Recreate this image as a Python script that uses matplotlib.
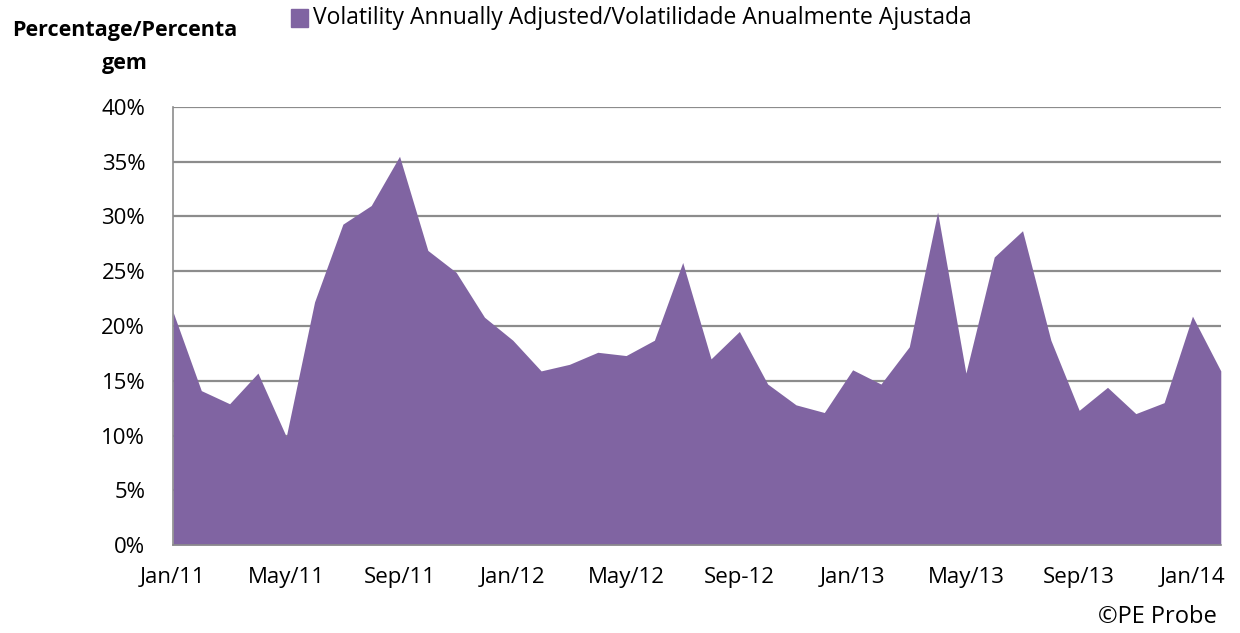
import matplotlib
matplotlib.use("Agg")
import matplotlib.pyplot as plt
import numpy as np
from matplotlib.ticker import FuncFormatter

# monthly volatility, Jan/11 .. Feb/14
months = ["Jan/11", "Feb/11", "Mar/11", "Apr/11", "May/11", "Jun/11", "Jul/11", "Aug/11",
          "Sep/11", "Oct/11", "Nov/11", "Dec/11", "Jan/12", "Feb/12", "Mar/12", "Apr/12",
          "May/12", "Jun/12", "Jul/12", "Aug/12", "Sep-12", "Oct/12", "Nov/12", "Dec/12",
          "Jan/13", "Feb/13", "Mar/13", "Apr/13", "May/13", "Jun/13", "Jul/13", "Aug/13",
          "Sep/13", "Oct/13", "Nov/13", "Dec/13", "Jan/14", "Feb/14"]
volatility = [21.3, 14.1, 12.9, 15.7, 9.9, 22.2, 29.3, 31.0, 35.5, 26.9, 24.9, 20.8,
              18.7, 15.9, 16.5, 17.6, 17.3, 18.7, 25.8, 17.0, 19.5, 14.7, 12.8, 12.1,
              16.0, 14.7, 18.1, 30.4, 15.7, 26.3, 28.7, 18.7, 12.3, 14.4, 12.0, 13.0,
              20.9, 15.9]
tick_every = 4
yticks = [0, 5, 10, 15, 20, 25, 30, 35, 40]

series_name = "Volatility Annually Adjusted/Volatilidade Anualmente Ajustada"
purple = "#8064A2"
grey = "#8C8C8C"

plt.rcParams['font.family'] = ['Open Sans', 'DejaVu Sans']

fig = plt.figure(figsize=(12.4, 6.33), dpi=100)
ax = fig.add_axes([0.1395, 0.139, 0.845, 0.692])

x = np.arange(len(volatility))
ax.fill_between(x, 0, volatility, color=purple, linewidth=0, zorder=3)

ax.set_xlim(0, len(volatility) - 1)
ax.set_ylim(0, 40)
ax.set_yticks(yticks)
ax.yaxis.set_major_formatter(FuncFormatter(lambda v, p: f"{v:.0f}%"))
ax.set_xticks(x[::tick_every])
ax.set_xticklabels(months[::tick_every])

ax.grid(axis="y", color=grey, linewidth=1.6, zorder=1)
ax.set_axisbelow(True)
for s in ["top", "right"]:
    ax.spines[s].set_visible(False)
for s in ["left", "bottom"]:
    ax.spines[s].set_color(grey)
    ax.spines[s].set_linewidth(1.2)
    ax.spines[s].set_zorder(4)
ax.tick_params(length=0, labelsize=16)
ax.tick_params(axis="x", pad=16)
ax.tick_params(axis="y", pad=20)

fig.text(0.101, 0.925, "Percentage/Percenta\ngem", ha="center", va="center",
         fontsize=15.5, fontweight="bold", linespacing=1.75)

# legend
fig.patches.append(plt.Rectangle((0.2345, 0.958), 0.0135, 0.027, transform=fig.transFigure,
                                 color=purple, figure=fig))
fig.text(0.2525, 0.971, series_name, ha="left", va="center", fontsize=16.5)

fig.text(0.981, 0.025, "©PE Probe", ha="right", va="center", fontsize=17)

fig.savefig("out.png", dpi=100)
